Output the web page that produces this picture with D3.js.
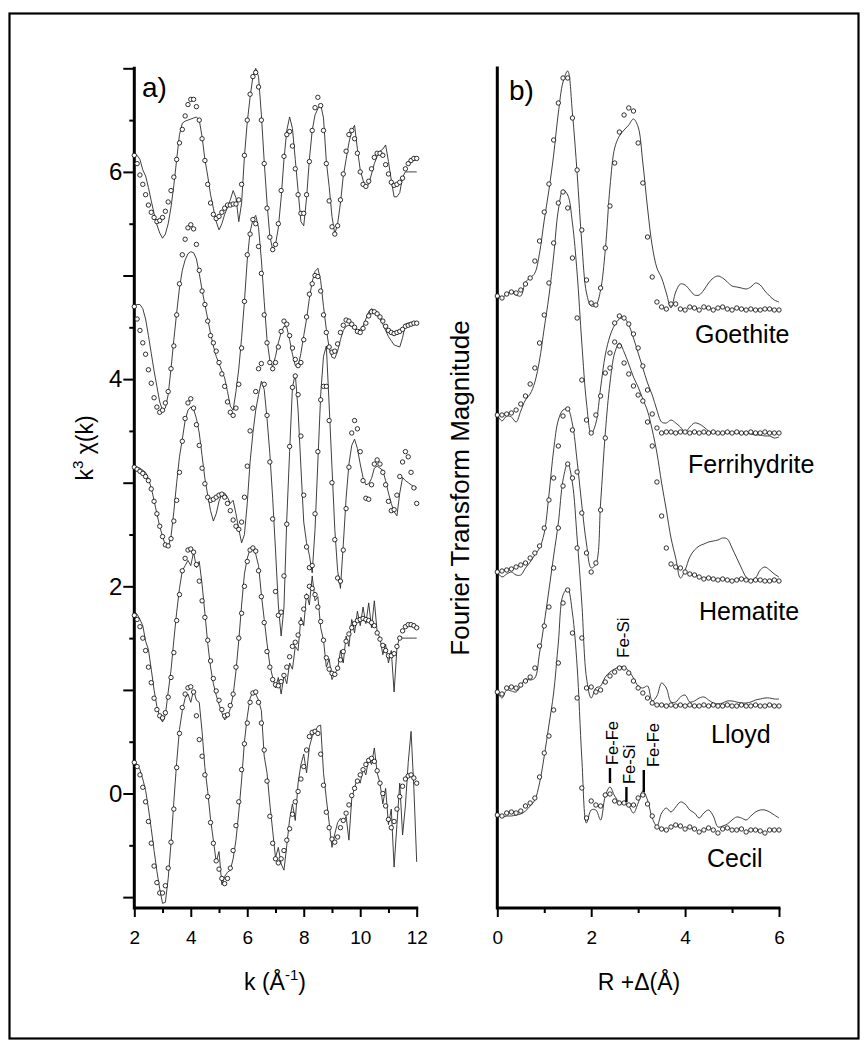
<!DOCTYPE html>
<html>
<head>
<meta charset="utf-8">
<script src="https://cdn.jsdelivr.net/npm/d3@7"></script>
<style>
  body { margin: 0; background: #fff; }
  text { font-family: "Liberation Sans", Arial, Helvetica, sans-serif; fill: #000; }
</style>
</head>
<body>
<svg id="fig" width="865" height="1044"></svg>
<script>
// ---------- k-space EXAFS (panel a): k = 2.0 ... 12.0, step 0.1 ----------
// stacked k^3-weighted chi(k); line = measured spectrum, circles = shell fit
const kStart = 2, kStep = 0.1;

const goethiteChi = [
  6.16,6.16,6.12,6.02,5.96,5.85,5.72,5.60,5.49,5.41,
  5.36,5.40,5.50,5.66,5.87,6.12,6.36,6.47,6.49,6.50,
  6.51,6.52,6.53,6.50,6.34,6.12,5.96,5.78,5.65,5.52,
  5.44,5.50,5.59,5.66,5.73,5.82,5.75,5.52,5.70,6.15,
  6.48,6.72,6.92,7.00,6.92,6.55,6.10,5.70,5.38,5.25,
  5.30,5.46,5.75,6.12,6.40,6.53,6.42,6.12,5.82,5.52,
  5.48,5.75,6.12,6.40,6.55,6.61,6.65,6.52,6.10,5.86,
  5.57,5.40,5.50,5.70,5.96,6.12,6.28,6.40,6.45,6.22,
  6.02,5.92,5.85,5.88,5.98,6.08,6.15,6.20,6.22,6.26,
  6.10,5.92,5.76,5.76,5.80,5.95,6.00,6.00,6.00,6.00,
  6.00];
const goethiteChiFit = [
  6.16,6.08,5.97,5.88,5.78,5.68,5.61,5.56,5.52,5.53,
  5.56,5.62,5.71,5.82,5.95,6.12,6.28,6.41,6.54,6.65,
  6.70,6.70,6.63,6.50,6.32,6.11,5.88,5.70,5.59,5.55,
  5.57,5.61,5.65,5.68,5.68,5.69,5.69,5.73,5.88,6.16,
  6.50,6.75,6.92,6.96,6.82,6.50,6.08,5.65,5.37,5.25,
  5.30,5.50,5.82,6.15,6.36,6.39,6.25,6.03,5.78,5.60,
  5.60,5.78,6.10,6.40,6.62,6.72,6.64,6.40,6.08,5.72,
  5.47,5.40,5.48,5.73,5.98,6.20,6.36,6.40,6.32,6.18,
  6.00,5.88,5.86,5.91,6.03,6.14,6.18,6.18,6.16,6.07,
  5.98,5.90,5.87,5.88,5.90,5.94,6.03,6.08,6.11,6.13,
  6.13];

const ferrihydriteChi = [
  4.71,4.72,4.72,4.68,4.58,4.42,4.25,4.08,3.93,3.78,
  3.70,3.72,3.85,4.10,4.38,4.64,4.88,5.05,5.15,5.21,
  5.23,5.22,5.16,5.02,4.86,4.72,4.58,4.44,4.32,4.22,
  4.15,4.08,4.01,3.88,3.74,3.70,3.88,4.10,4.40,4.75,
  5.15,5.42,5.54,5.58,5.46,5.15,4.75,4.38,4.18,4.12,
  4.22,4.35,4.45,4.51,4.50,4.38,4.24,4.13,4.12,4.25,
  4.42,4.58,4.78,4.94,5.04,5.07,4.95,4.70,4.48,4.30,
  4.21,4.20,4.27,4.38,4.47,4.51,4.52,4.51,4.49,4.47,
  4.48,4.51,4.58,4.65,4.68,4.66,4.62,4.58,4.53,4.47,
  4.41,4.37,4.33,4.32,4.31,4.40,4.53,4.54,4.54,4.54,
  4.54];
const ferrihydriteChiFit = [
  4.70,4.58,4.47,4.35,4.24,4.09,3.96,3.82,3.73,3.68,
  3.70,3.77,3.88,4.10,4.32,4.62,4.92,5.20,5.35,5.46,
  5.49,5.45,5.30,5.05,4.85,4.72,4.56,4.42,4.35,4.27,
  4.16,4.05,3.93,3.78,3.68,3.65,3.72,3.95,4.30,4.75,
  5.20,5.40,5.54,5.50,5.28,5.02,4.62,4.35,4.16,4.10,
  4.16,4.31,4.46,4.56,4.53,4.42,4.30,4.19,4.13,4.16,
  4.38,4.60,4.82,4.92,5.00,4.99,4.85,4.62,4.45,4.31,
  4.26,4.27,4.34,4.45,4.52,4.57,4.56,4.53,4.50,4.46,
  4.45,4.49,4.54,4.61,4.65,4.65,4.63,4.60,4.56,4.51,
  4.47,4.45,4.44,4.45,4.46,4.48,4.51,4.52,4.53,4.54,
  4.54];

const hematiteChi = [
  3.16,3.15,3.14,3.12,3.10,3.04,2.95,2.83,2.70,2.58,
  2.48,2.40,2.38,2.48,2.72,3.00,3.25,3.42,3.60,3.70,
  3.73,3.71,3.62,3.48,3.26,3.04,2.88,2.73,2.63,2.70,
  2.82,2.89,2.90,2.86,2.80,2.83,2.70,2.55,2.42,2.50,
  2.80,3.20,3.48,3.70,3.85,3.98,3.90,3.62,3.28,2.85,
  2.35,1.82,1.52,1.80,2.65,3.30,3.92,4.05,3.70,3.15,
  2.62,2.42,2.30,2.13,2.55,3.20,3.85,4.22,4.32,3.75,
  3.15,2.55,2.15,1.98,2.40,2.85,3.18,3.36,3.42,3.33,
  3.18,3.05,2.98,2.99,3.04,3.14,3.16,3.14,3.12,3.02,
  2.90,2.80,2.72,2.68,2.90,3.05,3.02,3.00,2.98,2.96,
  2.95];
const hematiteChiFit = [
  3.15,3.13,3.11,3.09,3.06,3.02,2.94,2.82,2.70,2.58,
  2.48,2.40,2.39,2.46,2.63,2.83,3.10,3.40,3.62,3.77,
  3.81,3.72,3.56,3.36,3.14,2.99,2.86,2.83,2.84,2.86,
  2.88,2.89,2.86,2.80,2.73,2.64,2.58,2.55,2.62,2.86,
  3.16,3.50,3.72,3.88,4.10,4.15,3.95,3.65,3.20,2.65,
  1.95,1.72,1.75,2.10,2.60,3.35,3.92,4.03,3.85,3.45,
  2.88,2.38,2.18,2.20,2.70,3.30,3.80,3.93,3.93,3.60,
  3.00,2.45,2.08,2.05,2.35,2.75,3.15,3.48,3.60,3.52,
  3.30,3.02,2.85,2.84,2.98,3.18,3.22,3.18,3.10,2.98,
  2.82,2.73,2.74,2.88,3.06,3.20,3.30,3.25,3.10,2.95,
  2.80];

const lloydChi = [
  1.76,1.73,1.68,1.62,1.47,1.39,1.20,1.00,0.84,0.74,
  0.69,0.76,0.98,1.19,1.48,1.75,1.98,2.15,2.20,2.25,
  2.20,2.33,2.18,2.24,2.02,1.74,1.45,1.22,1.06,0.95,
  0.86,0.78,0.71,0.74,0.82,0.95,1.18,1.48,1.82,2.12,
  2.27,2.36,2.38,2.31,2.20,1.92,1.68,1.45,1.24,1.12,
  1.02,1.12,0.96,1.14,1.06,1.26,1.20,1.42,1.38,1.70,
  1.62,1.93,1.82,2.10,1.86,1.90,1.60,1.48,1.22,1.30,
  1.10,1.16,1.20,1.38,1.26,1.52,1.42,1.68,1.55,1.76,
  1.62,1.80,1.64,1.84,1.60,1.86,1.56,1.50,1.34,1.44,
  1.26,1.38,0.98,1.40,1.52,1.50,1.50,1.50,1.50,1.50,
  1.50];
const lloydChiFit = [
  1.72,1.68,1.61,1.50,1.38,1.22,1.07,0.92,0.81,0.75,
  0.73,0.78,0.93,1.12,1.36,1.67,1.92,2.15,2.27,2.35,
  2.36,2.33,2.21,2.05,1.86,1.70,1.48,1.28,1.11,0.99,
  0.90,0.81,0.75,0.76,0.85,0.96,1.22,1.50,1.74,2.00,
  2.24,2.35,2.37,2.34,2.15,1.90,1.65,1.37,1.22,1.10,
  1.05,1.04,1.08,1.14,1.22,1.32,1.42,1.46,1.53,1.65,
  1.78,1.90,2.00,1.98,1.92,1.80,1.66,1.48,1.31,1.20,
  1.16,1.15,1.21,1.29,1.37,1.47,1.54,1.60,1.64,1.67,
  1.68,1.69,1.68,1.67,1.65,1.62,1.55,1.49,1.43,1.38,
  1.33,1.33,1.35,1.42,1.50,1.57,1.61,1.63,1.63,1.62,
  1.60];

const cecilChi = [
  0.31,0.28,0.23,0.14,0.03,-0.14,-0.34,-0.55,-0.75,-0.92,
  -1.06,-1.05,-0.82,-0.48,-0.08,0.30,0.62,0.80,0.92,0.96,
  0.88,1.00,0.90,0.88,0.60,0.25,0.02,-0.25,-0.45,-0.66,
  -0.56,-0.88,-0.80,-0.76,-0.74,-0.63,-0.45,-0.18,0.13,0.50,
  0.74,0.92,0.98,0.96,0.90,0.80,0.36,0.20,-0.10,-0.36,
  -0.62,-0.52,-0.68,-0.74,-0.50,-0.25,-0.10,-0.26,0.10,0.28,
  0.38,0.20,0.45,0.55,0.60,0.65,0.66,0.20,-0.05,-0.28,
  -0.52,-0.39,-0.28,-0.24,-0.28,-0.22,-0.45,-0.05,0.06,0.14,
  0.10,0.24,0.18,0.34,0.28,0.44,0.20,0.10,-0.10,0.05,
  -0.30,-0.15,-0.71,-0.30,0.10,-0.40,-0.12,0.30,0.60,0.05,
  -0.66];
const cecilChiFit = [
  0.30,0.26,0.18,0.06,-0.08,-0.27,-0.48,-0.70,-0.86,-0.96,
  -0.96,-0.89,-0.72,-0.47,-0.15,0.25,0.58,0.83,0.96,1.02,
  1.03,0.98,0.75,0.52,0.36,0.18,-0.03,-0.28,-0.48,-0.65,
  -0.73,-0.82,-0.87,-0.82,-0.72,-0.55,-0.31,-0.08,0.23,0.48,
  0.68,0.88,0.97,0.98,0.88,0.68,0.42,0.12,-0.22,-0.48,
  -0.63,-0.67,-0.63,-0.55,-0.45,-0.34,-0.20,-0.08,0.02,0.14,
  0.26,0.42,0.55,0.59,0.60,0.58,0.38,0.08,-0.18,-0.33,
  -0.44,-0.47,-0.42,-0.33,-0.26,-0.19,-0.11,-0.02,0.05,0.12,
  0.18,0.23,0.28,0.32,0.34,0.31,0.22,0.10,0.00,-0.12,
  -0.25,-0.33,-0.27,-0.15,-0.03,0.07,0.14,0.17,0.18,0.15,
  0.10];

// ---------- Fourier transforms (panel b): R + delta = 0.0 ... 6.0, step 0.1 ----------
// stacked magnitudes in arbitrary units
const rStart = 0, rStep = 0.1;

const goethiteFT = [
  6.13,6.10,6.14,6.16,6.13,6.12,6.26,6.30,6.35,6.55,
  6.88,7.18,7.53,7.95,8.26,8.37,7.95,7.35,6.65,6.15,
  6.02,6.03,6.18,6.58,7.21,7.60,7.72,7.78,7.83,7.89,
  7.81,7.45,7.00,6.62,6.40,6.30,6.15,6.00,6.16,6.24,
  6.23,6.18,6.13,6.13,6.18,6.25,6.30,6.32,6.30,6.26,
  6.22,6.21,6.20,6.19,6.21,6.25,6.23,6.17,6.12,6.08,
  6.06];
const goethiteFTFit = [
  6.12,6.10,6.14,6.16,6.15,6.18,6.24,6.30,6.47,6.67,
  6.96,7.24,7.68,8.05,8.30,8.30,7.90,7.38,6.78,6.28,
  6.05,6.03,6.20,6.60,7.02,7.45,7.76,7.93,8.00,7.97,
  7.65,7.25,6.71,6.31,6.06,6.01,5.99,6.04,6.04,5.99,
  5.98,6.01,6.00,5.98,6.01,6.00,5.98,6.00,6.01,5.99,
  5.98,6.00,5.99,5.98,5.99,5.98,5.98,5.99,5.99,5.98,
  5.98];

const ferrihydriteFT = [
  4.93,4.87,4.92,4.91,4.86,4.97,5.08,5.14,5.26,5.48,
  5.80,6.12,6.52,6.98,7.18,7.13,6.85,6.35,5.65,5.05,
  4.74,4.85,5.20,5.53,5.72,5.83,5.89,5.90,5.83,5.70,
  5.55,5.40,5.25,5.13,4.98,4.86,4.85,4.88,4.85,4.81,
  4.76,4.81,4.85,4.84,4.81,4.77,4.75,4.75,4.75,4.75,
  4.75,4.75,4.75,4.75,4.74,4.73,4.73,4.72,4.72,4.70,
  4.71];
const ferrihydriteFTFit = [
  4.93,4.93,4.94,4.95,4.98,5.04,5.12,5.24,5.40,5.65,
  5.93,6.25,6.65,7.05,7.16,7.00,6.50,5.90,5.28,4.88,
  4.75,4.93,5.12,5.35,5.55,5.85,5.92,5.90,5.84,5.74,
  5.60,5.42,5.18,4.94,4.80,4.75,4.76,4.76,4.75,4.76,
  4.76,4.75,4.76,4.75,4.76,4.75,4.76,4.75,4.75,4.76,
  4.75,4.76,4.75,4.75,4.76,4.75,4.75,4.76,4.75,4.75,
  4.75];

const hematiteFT = [
  3.36,3.31,3.34,3.36,3.33,3.33,3.40,3.46,3.53,3.60,
  3.75,4.13,4.58,4.88,4.98,4.99,4.84,4.47,4.03,3.64,
  3.40,3.44,4.05,4.75,5.25,5.55,5.65,5.56,5.44,5.31,
  5.21,5.09,4.97,4.78,4.55,4.25,3.98,3.70,3.50,3.30,
  3.38,3.51,3.58,3.62,3.64,3.66,3.67,3.68,3.70,3.69,
  3.60,3.50,3.40,3.31,3.28,3.30,3.38,3.41,3.38,3.34,
  3.31];
const hematiteFTFit = [
  3.36,3.37,3.38,3.39,3.41,3.43,3.45,3.50,3.55,3.62,
  3.80,4.08,4.30,4.62,4.92,4.99,4.78,4.36,3.95,3.55,
  3.36,3.45,3.98,4.70,5.40,5.66,5.62,5.45,5.34,5.22,
  5.13,5.07,4.86,4.62,4.26,3.92,3.60,3.44,3.41,3.40,
  3.36,3.34,3.33,3.31,3.29,3.30,3.29,3.28,3.29,3.28,
  3.27,3.28,3.29,3.28,3.27,3.28,3.28,3.27,3.27,3.28,
  3.27];

const lloydFT = [
  2.16,2.10,2.18,2.17,2.16,2.22,2.29,2.28,2.30,2.55,
  2.85,3.18,3.52,3.85,4.28,4.45,4.25,3.70,3.05,2.30,
  2.10,2.20,2.22,2.31,2.36,2.39,2.41,2.41,2.37,2.30,
  2.22,2.20,2.22,2.07,2.12,2.25,2.20,2.06,2.06,2.11,
  2.13,2.06,2.07,2.10,2.11,2.08,2.05,2.04,2.05,2.07,
  2.07,2.06,2.05,2.05,2.06,2.08,2.09,2.10,2.10,2.09,
  2.09];
const lloydFTFit = [
  2.16,2.14,2.20,2.21,2.20,2.23,2.27,2.31,2.40,2.62,
  2.82,3.01,3.40,3.80,4.22,4.44,4.30,3.60,2.70,2.20,
  2.21,2.16,2.18,2.26,2.32,2.36,2.40,2.40,2.35,2.27,
  2.20,2.15,2.10,2.05,2.03,2.03,2.02,2.03,2.02,2.03,
  2.02,2.03,2.02,2.02,2.03,2.02,2.03,2.02,2.02,2.03,
  2.02,2.02,2.03,2.02,2.02,2.03,2.02,2.02,2.03,2.02,
  2.02];

const cecilFT = [
  0.93,0.91,0.92,0.92,0.93,0.94,0.97,1.02,1.08,1.25,
  1.52,1.83,2.15,2.65,3.13,3.19,2.95,2.42,1.50,0.85,
  0.98,0.98,0.88,1.12,1.21,1.12,1.06,1.05,1.02,0.95,
  1.05,1.17,1.08,0.90,0.82,0.95,1.00,0.96,1.01,1.06,
  1.04,0.98,0.95,0.90,0.95,0.98,0.92,0.81,0.82,0.84,
  0.88,0.91,0.90,0.88,0.92,0.96,0.98,0.98,0.96,0.93,
  0.90];
const cecilFTFit = [
  0.93,0.92,0.95,0.96,0.95,0.97,1.02,1.05,1.10,1.31,
  1.55,1.72,1.98,2.45,3.05,3.18,2.75,2.10,1.20,0.90,
  1.07,1.03,1.02,1.13,1.14,1.07,1.05,1.05,1.03,1.03,
  1.10,1.13,1.04,0.92,0.81,0.79,0.78,0.81,0.83,0.82,
  0.79,0.81,0.79,0.76,0.78,0.80,0.78,0.75,0.79,0.80,
  0.78,0.78,0.79,0.76,0.78,0.78,0.77,0.75,0.78,0.78,
  0.78];

// sample names and shell assignments
const sampleNames = ["Goethite", "Ferrihydrite", "Hematite", "Lloyd", "Cecil"];
const lloydShellR = 2.67, lloydShellTop = 2.50, lloydShellText = "Fe-Si";
const cecilShellR    = [2.40, 2.75, 3.12];
const cecilShellLow  = [1.25, 1.06, 1.16];
const cecilShellHigh = [1.40, 1.21, 1.38];
const cecilShellText = ["Fe-Fe", "Fe-Si", "Fe-Fe"];

// tick values
const kMajorTicks = [2, 4, 6, 8, 10, 12];
const kMinorTicks = [3, 5, 7, 9, 11];
const chiMajorTicks = [-1, 0, 1, 2, 3, 4, 5, 6, 7];
const chiMinorTicks = [-0.5, 0.5, 1.5, 2.5, 3.5, 4.5, 5.5, 6.5];
const chiLabelTicks = [0, 2, 4, 6];
const rMajorTicks = [0, 2, 4, 6];
const rMinorTicks = [1, 3, 5];

// ---------- drawing ----------
const svg = d3.select("#fig");

svg.append("rect")
  .attr("x", 9.5).attr("y", 13.5)
  .attr("width", 849).attr("height", 1025)
  .attr("fill", "none").attr("stroke", "#000").attr("stroke-width", 2.2);

const xK = d3.scaleLinear().domain([2, 12]).range([134.3, 416.7]);
const yK = d3.scaleLinear().domain([-1.105, 7]).range([908, 68.3]);
const xR = d3.scaleLinear().domain([0, 6]).range([497.3, 779]);
const yR = d3.scaleLinear().domain([0, 8.4]).range([908, 68]);

const kGrid = d3.range(goethiteChi.length).map(i => +(kStart + i * kStep).toFixed(2));
const rGrid = d3.range(goethiteFT.length).map(i => +(rStart + i * rStep).toFixed(2));

function styleAxis(g, size) {
  g.select(".domain").remove();
  g.selectAll(".tick line").attr("stroke", "#000").attr("stroke-width", 2);
  g.selectAll(".tick text")
    .attr("font-family", '"Liberation Sans", Arial, sans-serif')
    .attr("font-size", size).attr("fill", "#000");
}

// ----- panel a axes -----
const gA = svg.append("g");
gA.append("g").attr("transform", `translate(${xK.range()[0]},0)`)
  .call(d3.axisLeft(yK).tickValues(chiMajorTicks).tickSize(11).tickPadding(1)
    .tickFormat(d => chiLabelTicks.includes(d) ? d3.format("d")(d) : ""))
  .call(g => styleAxis(g, 24));
gA.append("g").attr("transform", `translate(${xK.range()[0]},0)`)
  .call(d3.axisLeft(yK).tickValues(chiMinorTicks).tickSize(5).tickFormat(""))
  .call(g => styleAxis(g, 24));
gA.append("g").attr("transform", `translate(0,${yK.range()[0]})`)
  .call(d3.axisBottom(xK).tickValues(kMajorTicks).tickSize(9).tickPadding(14).tickFormat(d3.format("d")))
  .call(g => styleAxis(g, 19));
gA.append("g").attr("transform", `translate(0,${yK.range()[0]})`)
  .call(d3.axisBottom(xK).tickValues(kMinorTicks).tickSize(5).tickFormat(""))
  .call(g => styleAxis(g, 19));
gA.append("path")
  .attr("d", `M${xK.range()[0]},${yK.range()[1]}V${yK.range()[0]}H${xK.range()[1]}`)
  .attr("fill", "none").attr("stroke", "#000").attr("stroke-width", 3)
  .attr("stroke-linecap", "square");

// ----- panel b axes -----
const gB = svg.append("g");
gB.append("g").attr("transform", `translate(0,${yR.range()[0]})`)
  .call(d3.axisBottom(xR).tickValues(rMajorTicks).tickSize(9).tickPadding(14).tickFormat(d3.format("d")))
  .call(g => styleAxis(g, 19));
gB.append("g").attr("transform", `translate(0,${yR.range()[0]})`)
  .call(d3.axisBottom(xR).tickValues(rMinorTicks).tickSize(5).tickFormat(""))
  .call(g => styleAxis(g, 19));
gB.append("path")
  .attr("d", `M${xR.range()[0]},${yR.range()[1]}V${yR.range()[0]}H${xR.range()[1]}`)
  .attr("fill", "none").attr("stroke", "#000").attr("stroke-width", 3)
  .attr("stroke-linecap", "square");

// ----- traces -----
const chiSets = [
  [goethiteChi, goethiteChiFit], [ferrihydriteChi, ferrihydriteChiFit],
  [hematiteChi, hematiteChiFit], [lloydChi, lloydChiFit], [cecilChi, cecilChiFit]
];
const ftSets = [
  [goethiteFT, goethiteFTFit], [ferrihydriteFT, ferrihydriteFTFit],
  [hematiteFT, hematiteFTFit], [lloydFT, lloydFTFit], [cecilFT, cecilFTFit]
];

const lineK = d3.line().x((d, i) => xK(kGrid[i])).y(d => yK(d)).curve(d3.curveLinear);
const lineR = d3.line().x((d, i) => xR(rGrid[i])).y(d => yR(d)).curve(d3.curveCatmullRom.alpha(0.5));

const traceA = svg.append("g");
chiSets.forEach(([meas]) => {
  traceA.append("path").attr("d", lineK(meas))
    .attr("fill", "none").attr("stroke", "#2a2a2a").attr("stroke-width", 0.9);
});
chiSets.forEach(([, fit]) => {
  traceA.append("g").selectAll("circle").data(fit).join("circle")
    .attr("cx", (d, i) => xK(kGrid[i])).attr("cy", d => yK(d)).attr("r", 2.2)
    .attr("fill", "#fff").attr("stroke", "#000").attr("stroke-width", 0.8);
});

const traceB = svg.append("g");
ftSets.forEach(([meas]) => {
  traceB.append("path").attr("d", lineR(meas))
    .attr("fill", "none").attr("stroke", "#2a2a2a").attr("stroke-width", 0.9);
});
ftSets.forEach(([, fit]) => {
  traceB.append("g").selectAll("circle").data(fit).join("circle")
    .attr("cx", (d, i) => xR(rGrid[i])).attr("cy", d => yR(d)).attr("r", 2.2)
    .attr("fill", "#fff").attr("stroke", "#000").attr("stroke-width", 0.8);
});

// ----- shell assignments -----
svg.append("text")
  .attr("transform", `translate(${xR(lloydShellR) + 6},${yR(lloydShellTop)}) rotate(-90)`)
  .attr("font-size", 17).text(lloydShellText);

const textShift = [8, 9, 15];
cecilShellR.forEach((r, i) => {
  svg.append("line")
    .attr("x1", xR(r)).attr("x2", xR(r))
    .attr("y1", yR(cecilShellLow[i])).attr("y2", yR(cecilShellHigh[i]))
    .attr("stroke", "#000").attr("stroke-width", 2.4);
  svg.append("text")
    .attr("transform", `translate(${xR(r) + textShift[i]},${yR(cecilShellHigh[i]) - 3}) rotate(-90)`)
    .attr("font-size", 16.5).text(cecilShellText[i]);
});

// ----- sample names -----
const namePos = [[695, 343], [688, 473], [699, 620], [711, 743], [707, 867]];
sampleNames.forEach((n, i) => {
  svg.append("text").attr("x", namePos[i][0]).attr("y", namePos[i][1])
    .attr("font-size", 25).text(n);
});

// ----- panel letters and axis titles -----
svg.append("text").attr("x", 142).attr("y", 97).attr("font-size", 28).text("a)");
svg.append("text").attr("x", 509).attr("y", 100).attr("font-size", 28).text("b)");

const kTitle = svg.append("text").attr("x", 275).attr("y", 990)
  .attr("text-anchor", "middle").attr("font-size", 23);
kTitle.append("tspan").text("k (Å");
kTitle.append("tspan").attr("font-size", 15).attr("dy", -10).text("-1");
kTitle.append("tspan").attr("dy", 10).text(")");

svg.append("text").attr("x", 639).attr("y", 990)
  .attr("text-anchor", "middle").attr("font-size", 23).text("R +Δ(Å)");

const chiTitle = svg.append("text")
  .attr("transform", "translate(93,448) rotate(-90)")
  .attr("text-anchor", "middle").attr("font-size", 23);
chiTitle.append("tspan").text("k");
chiTitle.append("tspan").attr("font-size", 15).attr("dy", -10).text("3");
chiTitle.append("tspan").attr("dy", 10).text(" χ(k)");

svg.append("text")
  .attr("transform", "translate(469,488) rotate(-90)")
  .attr("text-anchor", "middle").attr("font-size", 26)
  .text("Fourier Transform Magnitude");
</script>
</body>
</html>
